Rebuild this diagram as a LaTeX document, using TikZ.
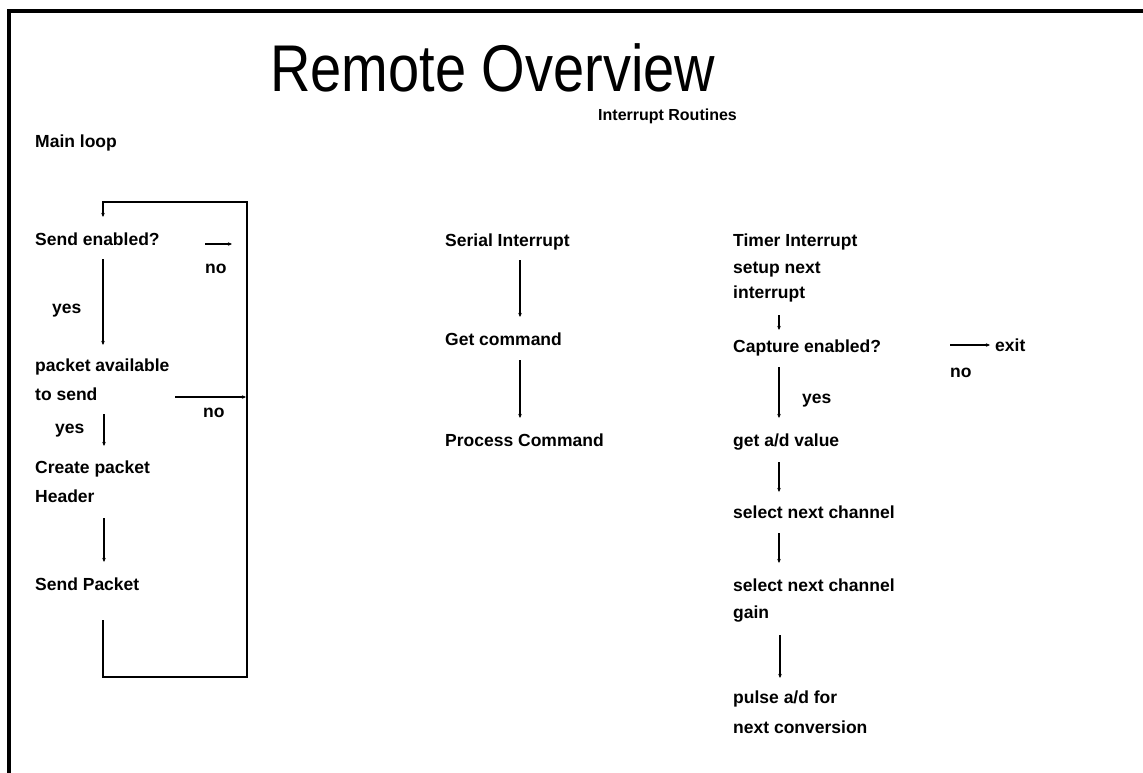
\documentclass[tikz,border=0pt]{standalone}
\usepackage{fontspec}
\setmainfont{Liberation Sans}
\usetikzlibrary{calc,arrows.meta}
\begin{document}
\begin{tikzpicture}[x=1pt,y=-1pt,
  lbl/.style={anchor=base west,inner sep=0pt,font=\fontsize{17.5}{20}\selectfont\bfseries},
  arr/.style={line width=1.4pt,-{Stealth[length=4pt,width=3.5pt]}},
  loopline/.style={line width=1.5pt}]
\useasboundingbox (0,0) rectangle (1143,772);
% frame
\draw[line width=3.5pt] (1150,11) -- (9,11) -- (9,780);
% title
\node[anchor=base west,inner sep=0pt,text depth=0pt] (title) at (270,91)
  {\scalebox{1}[1.18]{\fontsize{56}{60}\selectfont Remote Overview}};
\node[lbl,font=\fontsize{16}{18}\selectfont\bfseries] (ir) at (598,120) {Interrupt Routines};
% column coordinates
\coordinate (xL) at (103,0);
\coordinate (xM) at (520,0);
\coordinate (xR) at (779,0);
\coordinate (lb) at (247,677);
\coordinate (lt) at (247,202);
% left column
\node[lbl] (ml) at (35,147) {Main loop};
\node[lbl] (se) at (35,245) {Send enabled?};
\node[lbl] (y1) at (52,313) {yes};
\node[lbl] (n1) at (205,273) {no};
\node[lbl] (pa) at (35,371) {packet available};
\node[lbl] (ts) at (35,400) {to send};
\node[lbl] (n2) at (203,417) {no};
\node[lbl] (y2) at (55,433) {yes};
\node[lbl] (cp) at (35,473) {Create packet};
\node[lbl] (hd) at (35,502) {Header};
\node[lbl] (sp) at (35,590) {Send Packet};
% middle column
\node[lbl] (si) at (445,246) {Serial Interrupt};
\node[lbl] (gc) at (445,345) {Get command};
\node[lbl] (pc) at (445,446) {Process Command};
% right column
\node[lbl] (ti) at (733,246) {Timer Interrupt};
\node[lbl] (sn) at (733,273) {setup next};
\node[lbl] (it) at (733,298) {interrupt};
\node[lbl] (ce) at (733,352) {Capture enabled?};
\node[lbl] (ex) at (995,351) {exit};
\node[lbl] (n3) at (950,377) {no};
\node[lbl] (y3) at (802,403) {yes};
\node[lbl] (gv) at (733,446) {get a/d value};
\node[lbl] (sc1) at (733,518) {select next channel};
\node[lbl] (sc2) at (733,591) {select next channel};
\node[lbl] (gn) at (733,618) {gain};
\node[lbl] (pu) at (733,703) {pulse a/d for};
\node[lbl] (nc) at (733,733) {next conversion};
% left connectors
\draw[arr] ($(se.base -| xL)+(0,14)$) -- ($(pa.base -| xL)+(0,-26)$);
\draw[arr] ($(ts.base -| xL)+(1,14)$) -- ($(cp.base -| xL)+(1,-27)$);
\draw[arr] ($(hd.base -| xL)+(1,16)$) -- ($(sp.base -| xL)+(1,-28)$);
\draw[loopline,-{Stealth[length=4pt,width=3.5pt]}] ($(sp.base -| xL)+(0,30)$) |- (lb) -- (lt) -| ($(se.base -| xL)+(0,-28)$);
\draw[arr] ($(n1.base west)+(0,-29)$) -- ++(27,0);
\draw[arr] ($(n2.base west)+(-28,-20)$) -- ++(71,0);
% middle connectors
\draw[arr] ($(si.base -| xM)+(0,14)$) -- ($(gc.base -| xM)+(0,-28)$);
\draw[arr] ($(gc.base -| xM)+(0,15)$) -- ($(pc.base -| xM)+(0,-28)$);
% right connectors
\draw[arr] ($(it.base -| xR)+(0,17)$) -- ($(ce.base -| xR)+(0,-22)$);
\draw[arr] ($(ce.base -| xR)+(0,15)$) -- ($(gv.base -| xR)+(0,-28)$);
\draw[arr] ($(gv.base -| xR)+(0,16)$) -- ($(sc1.base -| xR)+(0,-26)$);
\draw[arr] ($(sc1.base -| xR)+(0,15)$) -- ($(sc2.base -| xR)+(0,-28)$);
\draw[arr] ($(gn.base -| xR)+(1,17)$) -- ($(pu.base -| xR)+(1,-25)$);
\draw[arr] ($(ex.base west)+(-45,-6)$) -- ($(ex.base west)+(-5,-6)$);
\end{tikzpicture}
\end{document}
